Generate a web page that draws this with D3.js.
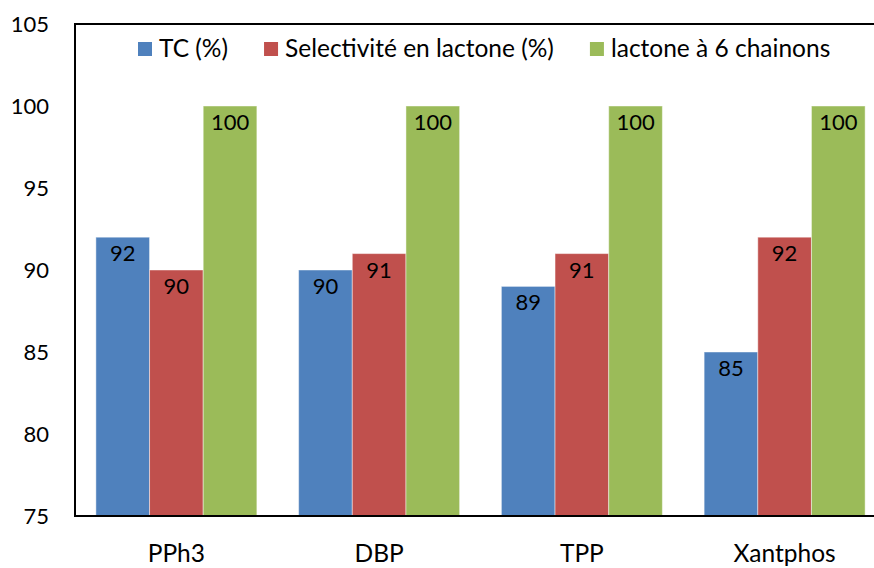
<!DOCTYPE html>
<html>
<head>
<meta charset="utf-8">
<script src="https://cdn.jsdelivr.net/npm/d3@7"></script>
<style>
  html, body { margin: 0; padding: 0; background: #fff; }
  svg { display: block; }
  text { font-family: Lato, "Open Sans", sans-serif; fill: #000; }
</style>
</head>
<body>
<div id="chart"></div>
<script>
// Catalyst ligands compared in the carbonylation runs
const categories = ["PPh3", "DBP", "TPP", "Xantphos"];
const seriesNames = ["TC (%)", "Selectivité en lactone (%)", "lactone à 6 chainons"];
const tcValues = [92, 90, 89, 85];
const selectivityValues = [90, 91, 91, 92];
const sixRingValues = [100, 100, 100, 100];
const yTicks = [75, 80, 85, 90, 95, 100, 105];
const seriesColors = ["#4F81BD", "#C0504D", "#9BBB59"];

const width = 874, height = 568;
const plot = { left: 75, top: 24, right: 886, bottom: 516 };
const numberSize = 22;
const labelSize = 24.5;

const svg = d3.select("#chart").append("svg")
  .attr("width", width).attr("height", height);

const series = [tcValues, selectivityValues, sixRingValues];
const rows = categories.map((c, i) => ({
  category: c,
  values: series.map((s, k) => ({ key: seriesNames[k], k, value: s[i] }))
}));

const y = d3.scaleLinear().domain([75, 105]).range([plot.bottom, plot.top]);
const x0 = d3.scaleBand().domain(categories)
  .range([plot.left, plot.right]).paddingInner(0.206).paddingOuter(0.103);
const x1 = d3.scaleBand().domain(seriesNames).range([0, x0.bandwidth()]).padding(0);

// bars
const groups = svg.append("g").selectAll("g").data(rows).join("g")
  .attr("transform", d => `translate(${x0(d.category)},0)`);

groups.selectAll("rect").data(d => d.values).join("rect")
  .attr("x", d => x1(d.key))
  .attr("y", d => y(d.value))
  .attr("width", x1.bandwidth())
  .attr("height", d => y(75) - y(d.value))
  .attr("fill", d => seriesColors[d.k])
  .attr("stroke", "rgba(255,255,255,0.45)")
  .attr("stroke-width", 1);

// value labels inside the top of each bar
groups.selectAll("text.val").data(d => d.values).join("text")
  .attr("class", "val")
  .attr("x", d => x1(d.key) + x1.bandwidth() / 2)
  .attr("y", d => y(d.value) + 24)
  .attr("text-anchor", "middle")
  .style("font-size", numberSize + "px")
  .text(d => d.value);

// frame: left, top and bottom lines
const frame = svg.append("g").attr("stroke", "#000").attr("stroke-width", 2).attr("fill", "none");
frame.append("line").attr("x1", plot.left).attr("x2", plot.left).attr("y1", plot.top - 1).attr("y2", plot.bottom + 1);
frame.append("line").attr("x1", plot.left).attr("x2", width).attr("y1", plot.top).attr("y2", plot.top);
frame.append("line").attr("x1", plot.left).attr("x2", width).attr("y1", plot.bottom).attr("y2", plot.bottom);

// y axis labels
const yAxis = svg.append("g")
  .attr("transform", `translate(${plot.left},0)`)
  .call(d3.axisLeft(y).tickValues(yTicks).tickSize(0).tickPadding(26));
yAxis.select(".domain").remove();
yAxis.selectAll("text").style("font-size", numberSize + "px").attr("font-family", null);

// x axis labels
const xAxis = svg.append("g")
  .attr("transform", `translate(0,${plot.bottom})`)
  .call(d3.axisBottom(x0).tickSize(0).tickPadding(0));
xAxis.select(".domain").remove();
xAxis.selectAll("text").attr("dy", null).attr("y", 46).style("font-size", labelSize + "px").attr("font-family", null);

// legend
const legend = svg.append("g").attr("transform", "translate(138,42)");
let lx = 0;
seriesNames.forEach((name, k) => {
  const item = legend.append("g").attr("transform", `translate(${lx},0)`);
  item.append("rect").attr("width", 14).attr("height", 14).attr("fill", seriesColors[k]);
  const t = item.append("text").attr("x", 21).attr("y", 14.5)
    .style("font-size", labelSize + "px").text(name);
  lx += 21 + t.node().getComputedTextLength() + 36;
});
</script>
</body>
</html>
